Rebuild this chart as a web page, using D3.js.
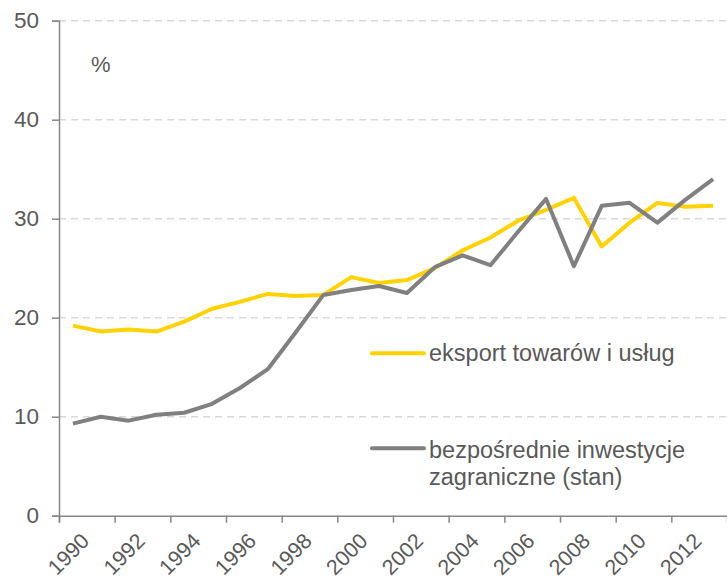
<!DOCTYPE html>
<html>
<head>
<meta charset="utf-8">
<script src="https://cdn.jsdelivr.net/npm/d3@7"></script>
<style>
  html, body { margin: 0; padding: 0; background: #ffffff; }
  svg { display: block; }
  text { font-family: "Liberation Sans", Arial, sans-serif; fill: #595959; }
</style>
</head>
<body>
<div id="chart"></div>
<script>
// ---- Data ----
const years = [1990,1991,1992,1993,1994,1995,1996,1997,1998,1999,2000,2001,2002,2003,2004,2005,2006,2007,2008,2009,2010,2011,2012,2013];
const exportValues = [19.2,18.6,18.8,18.6,19.6,20.9,21.6,22.4,22.2,22.3,24.1,23.5,23.8,25.0,26.8,28.1,29.8,30.9,32.1,27.2,29.6,31.6,31.2,31.3];
const fdiValues = [9.3,10.0,9.6,10.2,10.4,11.3,12.9,14.8,18.5,22.3,22.8,23.2,22.5,25.1,26.3,25.3,28.7,32.0,25.2,31.3,31.6,29.6,31.9,34.0];
const yTicks = [0,10,20,30,40,50];
const xLabelYears = [1990,1992,1994,1996,1998,2000,2002,2004,2006,2008,2010,2012];
const seriesNames = ["eksport towarów i usług", ["bezpośrednie inwestycje", "zagraniczne (stan)"]];
const unitLabel = "%";

// ---- Layout ----
const W = 727, H = 580;
const mLeft = 59, mRight = 727, mTop = 20.7, mBottom = 515.7;
const yellow = "#FFD200", gray = "#808080", axisColor = "#878787", gridColor = "#D9D9D9";

const svg = d3.select("#chart").append("svg").attr("width", W).attr("height", H);

const xEdge = d3.scaleLinear().domain([years[0], years[years.length-1] + 1]).range([mLeft, mRight]);
const xc = yr => xEdge(yr + 0.5);
const y = d3.scaleLinear().domain([0, 50]).range([mBottom, mTop]);

// gridlines
svg.append("g").selectAll("line").data(yTicks.filter(t => t > 0)).join("line")
  .attr("x1", mLeft).attr("x2", mRight)
  .attr("y1", d => y(d)).attr("y2", d => y(d))
  .attr("stroke", gridColor).attr("stroke-width", 1.5).attr("stroke-dasharray", "7,5");

// y axis
const yAxis = d3.axisLeft(y).tickValues(yTicks).tickSize(7).tickPadding(13).tickFormat(d3.format("d"));
const gy = svg.append("g").attr("transform", `translate(${mLeft},0)`).call(yAxis);
gy.select(".domain").attr("stroke", axisColor).attr("stroke-width", 1.5);
gy.selectAll(".tick line").attr("stroke", axisColor).attr("stroke-width", 1.5);
gy.selectAll(".tick text").attr("font-size", 22.5).attr("fill", "#595959")
  .attr("font-family", "Liberation Sans, Arial, sans-serif");

// x axis
const xAxis = d3.axisBottom(xEdge).tickValues(xLabelYears).tickSize(7).tickFormat("");
const gx = svg.append("g").attr("transform", `translate(0,${mBottom})`).call(xAxis);
gx.select(".domain").attr("stroke", axisColor).attr("stroke-width", 1.5);
gx.selectAll(".tick line").attr("stroke", axisColor).attr("stroke-width", 1.5);

svg.append("g").selectAll("text").data(xLabelYears).join("text")
  .attr("transform", d => `translate(${xc(d) + 7},${mBottom + 16}) rotate(-45)`)
  .attr("text-anchor", "end").attr("dy", "0.7em")
  .attr("font-size", 21.5).text(d => d);

// unit label
svg.append("text").attr("x", 91).attr("y", 72).attr("font-size", 22).text(unitLabel);

// lines
const line = d3.line().x(d => xc(d[0])).y(d => y(d[1]));
svg.append("path").datum(years.map((yr, i) => [yr, exportValues[i]]))
  .attr("d", line).attr("fill", "none").attr("stroke", yellow).attr("stroke-width", 4)
  .attr("stroke-linejoin", "round");
svg.append("path").datum(years.map((yr, i) => [yr, fdiValues[i]]))
  .attr("d", line).attr("fill", "none").attr("stroke", gray).attr("stroke-width", 4)
  .attr("stroke-linejoin", "round");

// legend
const lg = svg.append("g");
lg.append("line").attr("x1", 372).attr("x2", 424).attr("y1", 353.3).attr("y2", 353.3)
  .attr("stroke", yellow).attr("stroke-width", 4).attr("stroke-linecap", "round");
lg.append("text").attr("x", 429).attr("y", 361).attr("font-size", 23.5).text(seriesNames[0]);
lg.append("line").attr("x1", 372).attr("x2", 424).attr("y1", 448.3).attr("y2", 448.3)
  .attr("stroke", gray).attr("stroke-width", 4).attr("stroke-linecap", "round");
const t2 = lg.append("text").attr("x", 429).attr("y", 458.3).attr("font-size", 23.5);
t2.selectAll("tspan").data(seriesNames[1]).join("tspan")
  .attr("x", 429).attr("dy", (d, i) => i === 0 ? 0 : 26.7).text(d => d);
</script>
</body>
</html>
